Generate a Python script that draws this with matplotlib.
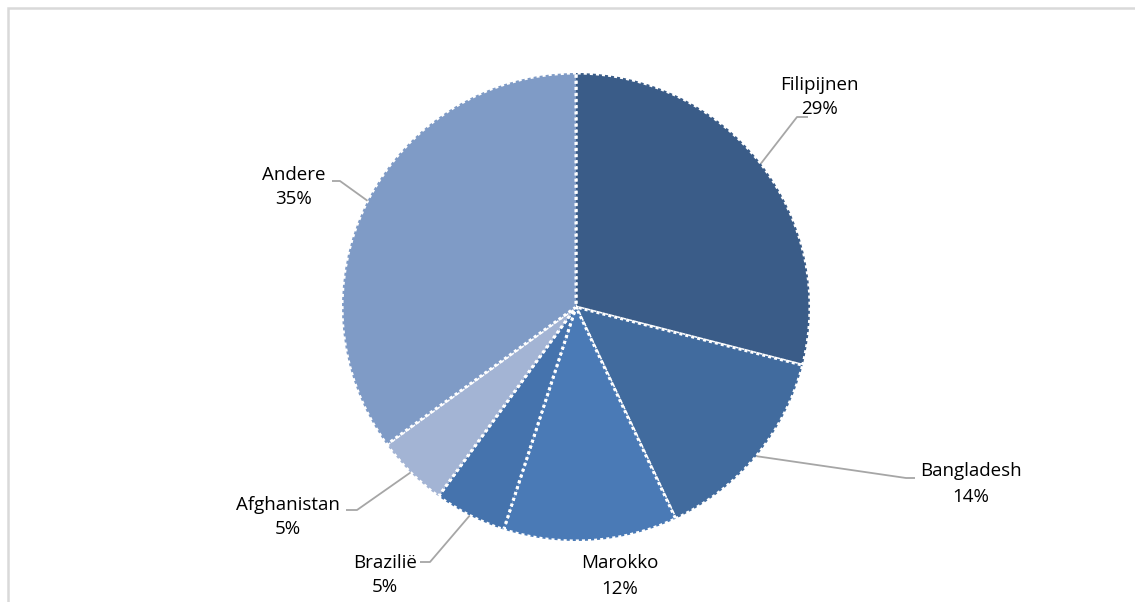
import numpy as np
import matplotlib
matplotlib.use("Agg")
import matplotlib.pyplot as plt
from matplotlib.patches import Rectangle

# ---- data ----
labels = ["Filipijnen", "Bangladesh", "Marokko", "Brazilië", "Afghanistan", "Andere"]
shares = [29, 14, 12, 5, 5, 35]
colors = ["#3A5C88", "#416B9E", "#4A7AB6", "#4573AD", "#A3B4D4", "#7F9BC6"]

W, H = 1135, 602
plt.rcParams["font.family"] = ["Open Sans", "DejaVu Sans"]

fig = plt.figure(figsize=(W / 100, H / 100), dpi=100)
ax = fig.add_axes([0, 0, 1, 1])

cx, cy, r = 576, H - 307, 234
wedges, _ = ax.pie(shares, colors=colors, startangle=90, counterclock=False,
                   center=(cx, cy), radius=r,
                   wedgeprops=dict(edgecolor="white", linewidth=2.2,
                                   linestyle=(0, (1, 1))))
ax.set_xlim(0, W)
ax.set_ylim(0, H)
ax.set_aspect("equal")
ax.axis("off")

# label layout: (elbow x, elbow y, text x, text y) in pixels from top-left
layout = {
    "Filipijnen":  (797, 117, 819, 97),
    "Bangladesh":  (906, 478, 971, 484),
    "Marokko":     (None, None, 620, 576),
    "Brazilië":    (430, 562, 385, 575),
    "Afghanistan": (357, 510, 288, 517),
    "Andere":      (340, 181, 294, 187),
}
hook = {"Filipijnen": 11, "Bangladesh": 9, "Brazilië": -10,
        "Afghanistan": -11, "Andere": -8}

for w, lab, s in zip(wedges, labels, shares):
    ex, ey, tx, ty = layout[lab]
    ax.text(tx, H - ty, f"{lab}\n{s}%", ha="center", va="center",
            fontsize=13.5, color="#000000", linespacing=1.5)
    if ex is None:
        continue
    ang = np.deg2rad((w.theta1 + w.theta2) / 2)
    px, py = cx + r * np.cos(ang), cy + r * np.sin(ang)
    ax.plot([px, ex, ex + hook[lab]], [py, H - ey, H - ey],
            color="#A6A6A6", lw=1.3, solid_capstyle="butt")

# chart frame (only top and left edges fall inside the image)
fig.patches.append(Rectangle((8 / W, -0.1), 1.2, (H - 8) / H + 0.1,
                             transform=fig.transFigure, fill=False,
                             edgecolor="#D9D9D9", lw=1.8))

fig.savefig("out.png", dpi=100)
